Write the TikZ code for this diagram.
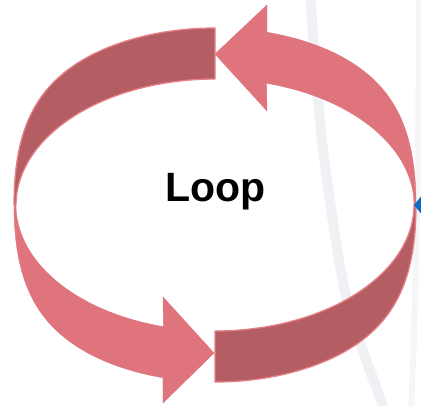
\documentclass[tikz,border=0pt]{standalone}
\usepackage{fontspec}
\setmainfont{Liberation Sans}
\definecolor{bandDark}{HTML}{B45D63}
\definecolor{bandLight}{HTML}{DF747C}
\definecolor{bandEdge}{HTML}{E67F87}
\definecolor{sealGrey}{HTML}{EFF1F5}
\definecolor{sealFaint}{HTML}{F5F6F8}
\definecolor{handleBlue}{HTML}{0B6DC6}
\begin{document}
\begin{tikzpicture}[x=1pt,y=-1pt,
  darkband/.style={fill=bandDark,draw=bandEdge,line width=1.3pt,line join=round},
  lightband/.style={fill=bandLight,draw=bandLight,line width=0.4pt,line join=miter},
  seal/.style={line cap=round}]
\useasboundingbox (0,0) rectangle (421,405);
\clip (0,0) rectangle (421,405);
\fill[white] (0,0) rectangle (421,405);

% faint seal watermark in the background
\draw[seal,sealGrey,line width=10pt] plot[smooth] coordinates {(310,-8) (318,100) (327,180) (347,300) (386,414)};
\draw[seal,sealFaint,line width=6pt] plot[smooth] coordinates {(419,-8) (418,150) (415,300) (411,414)};

% upper left band (back face)
\filldraw[darkband]
  plot[domain=90:180,samples=90] ({215+201*cos(\x)},{205-126*sin(\x)-51*(1-(1-sin(\x))^3)})
  -- plot[domain=180:90,samples=90] ({215+199*cos(\x)},{205-126*sin(\x)})
  -- cycle;

% lower right band (back face)
\filldraw[darkband]
  plot[domain=270:360,samples=90] ({215+201*cos(\x)},{205-126*sin(\x)+51*(1-(1+sin(\x))^3)})
  -- plot[domain=360:270,samples=90] ({215+199*cos(\x)},{205-126*sin(\x)})
  -- cycle;

% upper right arrow, pointing left
\filldraw[lightband]
  plot[domain=0:75,samples=80] ({215+201*cos(\x)},{205-126*sin(\x)-51*(1-(1-sin(\x))^3)})
  -- (267,5) -- (215,54) -- (267,111)
  -- plot[domain=75:0,samples=80] ({215+199*cos(\x)},{205-126*sin(\x)})
  -- cycle;

% lower left arrow, pointing right
\filldraw[lightband]
  plot[domain=180:255,samples=80] ({215+201*cos(\x)},{205-126*sin(\x)+51*(1-(1+sin(\x))^3)})
  -- (163,403) -- (214,353) -- (163,297)
  -- plot[domain=255:180,samples=80] ({215+199*cos(\x)},{205-126*sin(\x)})
  -- cycle;

% selection handle at the right rim
\fill[handleBlue] (414,205) -- (423,194) -- (432,205) -- (423,216) -- cycle;

\node[anchor=base,inner sep=0pt,font=\fontsize{41}{41}\selectfont\bfseries] (label) at (215.5,201.5) {Loop};
\end{tikzpicture}
\end{document}
